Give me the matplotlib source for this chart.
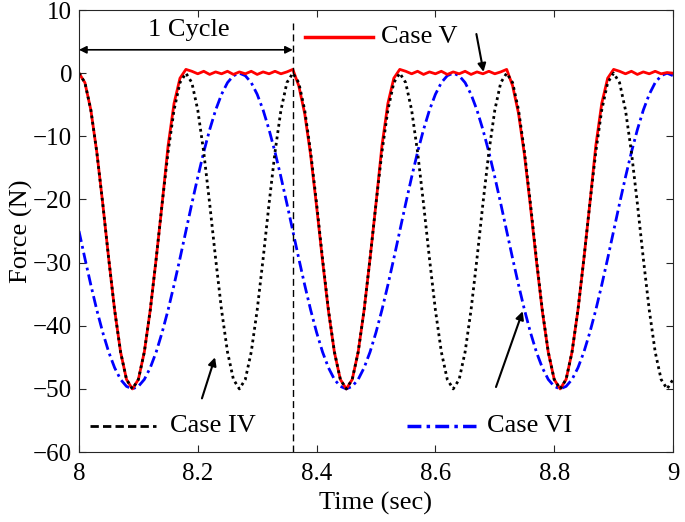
import numpy as np
import matplotlib.pyplot as plt

plt.rcParams['font.family'] = ['Liberation Serif', 'DejaVu Serif']

# time grid (sec), one sample every 0.01 s
time = np.linspace(8.0, 9.0, 101)

# Case IV (black dotted)
force_iv = [
    0, -1.5, -5.85, -12.5, -20.65, -29.35, -37.5, -44.15, -48.5, -50, -48.5, -44.15, -37.5, -29.35, -20.65, -12.5, -5.85, -1.5,
    0, -1.5, -5.85, -12.5, -20.65, -29.35, -37.5, -44.15, -48.5, -50, -48.5, -44.15, -37.5, -29.35, -20.65, -12.5, -5.85, -1.5,
    0, -1.5, -5.85, -12.5, -20.65, -29.35, -37.5, -44.15, -48.5, -50, -48.5, -44.15, -37.5, -29.35, -20.65, -12.5, -5.85, -1.5,
    0, -1.5, -5.85, -12.5, -20.65, -29.35, -37.5, -44.15, -48.5, -50, -48.5, -44.15, -37.5, -29.35, -20.65, -12.5, -5.85, -1.5,
    0, -1.5, -5.85, -12.5, -20.65, -29.35, -37.5, -44.15, -48.5, -50, -48.5, -44.15, -37.5, -29.35, -20.65, -12.5, -5.85, -1.5,
    0, -1.5, -5.85, -12.5, -20.65, -29.35, -37.5, -44.15, -48.5, -50, -48.5,
]

# Case V (red solid)
force_v = [
    0, -1.5, -5.85, -12.5, -20.65, -29.35, -37.5, -44.15, -48.5, -50, -48.5, -44.15, -37.5, -29.35, -20.65, -11.5, -4.8, -0.8,
    0.6, 0.3, -0.1, 0.3, -0.2, 0.2, -0.1, 0.3, -0.2, 0.2, -0.1, 0.3, -0.2, 0.2, -0.1, 0.3, -0.1, 0.2, 0.6,
    -2.0, -6.4, -13.0, -21.1, -29.7, -37.7, -44.2, -48.5, -50, -48.5, -44.15, -37.5, -29.35, -20.65, -11.5, -4.8, -0.8,
    0.6, 0.3, -0.1, 0.3, -0.2, 0.2, -0.1, 0.3, -0.2, 0.2, -0.1, 0.3, -0.2, 0.2, -0.1, 0.3, -0.1, 0.2, 0.6,
    -2.0, -6.4, -13.0, -21.1, -29.7, -37.7, -44.2, -48.5, -50, -48.5, -44.15, -37.5, -29.35, -20.65, -11.5, -4.8, -0.8,
    0.6, 0.3, -0.1, 0.3, -0.2, 0.2, -0.1, 0.3, -0.1, 0.1, 0.0,
]

# Case VI (blue dash-dot)
force_vi = [
    -25, -29.35, -33.55, -37.5, -41.05, -44.15, -46.65, -48.5, -49.6, -50, -49.6, -48.5, -46.65, -44.15, -41.05, -37.5, -33.55, -29.35,
    -25, -20.65, -16.45, -12.5, -8.95, -5.85, -3.35, -1.5, -0.4, 0, -0.4, -1.5, -3.35, -5.85, -8.95, -12.5, -16.45, -20.65,
    -25, -29.35, -33.55, -37.5, -41.05, -44.15, -46.65, -48.5, -49.6, -50, -49.6, -48.5, -46.65, -44.15, -41.05, -37.5, -33.55, -29.35,
    -25, -20.65, -16.45, -12.5, -8.95, -5.85, -3.35, -1.5, -0.4, 0, -0.4, -1.5, -3.35, -5.85, -8.95, -12.5, -16.45, -20.65,
    -25, -29.35, -33.55, -37.5, -41.05, -44.15, -46.65, -48.5, -49.6, -50, -49.6, -48.5, -46.65, -44.15, -41.05, -37.5, -33.55, -29.35,
    -25, -20.65, -16.45, -12.5, -8.95, -5.85, -3.35, -1.5, -0.4, 0, -0.4,
]

x_ticks = [8, 8.2, 8.4, 8.6, 8.8, 9]
x_labels = ['8', '8.2', '8.4', '8.6', '8.8', '9']
y_ticks = [-60, -50, -40, -30, -20, -10, 0, 10]

fig = plt.figure(figsize=(6.85, 5.22), dpi=100)
ax = fig.add_axes([0.1153, 0.134, 0.8672, 0.8468])

ax.plot(time, force_vi, color='blue', lw=2, ls=(0, (4, 1.5, 1, 1.5)))
ax.plot(time, force_v, color='red', lw=2)
ax.plot(time, force_iv, color='black', lw=2, ls=(0, (1, 1.3)))

# cycle marker
ax.plot([8.36, 8.36], [-60, 8], color='black', lw=1, ls=(0, (5, 3)))
ax.annotate('', xy=(8.0, 3.7), xytext=(8.36, 3.7),
            arrowprops=dict(arrowstyle='<|-|>', color='black', lw=1.2,
                            mutation_scale=11, shrinkA=0, shrinkB=0))
ax.text(8.185, 6.8, '1 Cycle', fontsize=19, ha='center', va='center')

# legend-like labels
ax.plot([8.38, 8.495], [5.7, 5.7], color='red', lw=2.5)
ax.text(8.508, 5.7, 'Case V', fontsize=19, va='center')
ax.plot([8.018, 8.13], [-55.8, -55.8], color='black', lw=2, ls=(0, (3, 1.5)))
ax.text(8.153, -55.8, 'Case IV', fontsize=19, va='center')
ax.plot([8.552, 8.668], [-55.9, -55.9], color='blue', lw=2.5, ls=(0, (4, 1.5, 1, 1.5)))
ax.text(8.687, -55.9, 'Case VI', fontsize=19, va='center')

arrow = dict(arrowstyle='-|>', color='black', lw=1.5, mutation_scale=12,
             shrinkA=0, shrinkB=0)
ax.annotate('', xy=(8.681, 0.2), xytext=(8.669, 6.2), arrowprops=arrow)
ax.annotate('', xy=(8.229, -45), xytext=(8.207, -51.5), arrowprops=arrow)
ax.annotate('', xy=(8.747, -37.7), xytext=(8.702, -49.7), arrowprops=arrow)

ax.set_xlim(8, 9)
ax.set_ylim(-60, 10)
ax.set_xticks(x_ticks)
ax.set_xticklabels(x_labels)
ax.set_yticks(y_ticks)
ax.tick_params(direction='in', top=True, right=True, labelsize=18, length=5,
               width=0.8, colors='#262626', labelcolor='black', pad=5)
ax.tick_params(axis='x', pad=8)
for sp in ax.spines.values():
    sp.set_color('#262626')
    sp.set_linewidth(0.8)
ax.set_xlabel('Time (sec)', fontsize=19, labelpad=5)
ax.set_ylabel('Force (N)', fontsize=19, labelpad=0)

fig.savefig('out.png', dpi=100)
